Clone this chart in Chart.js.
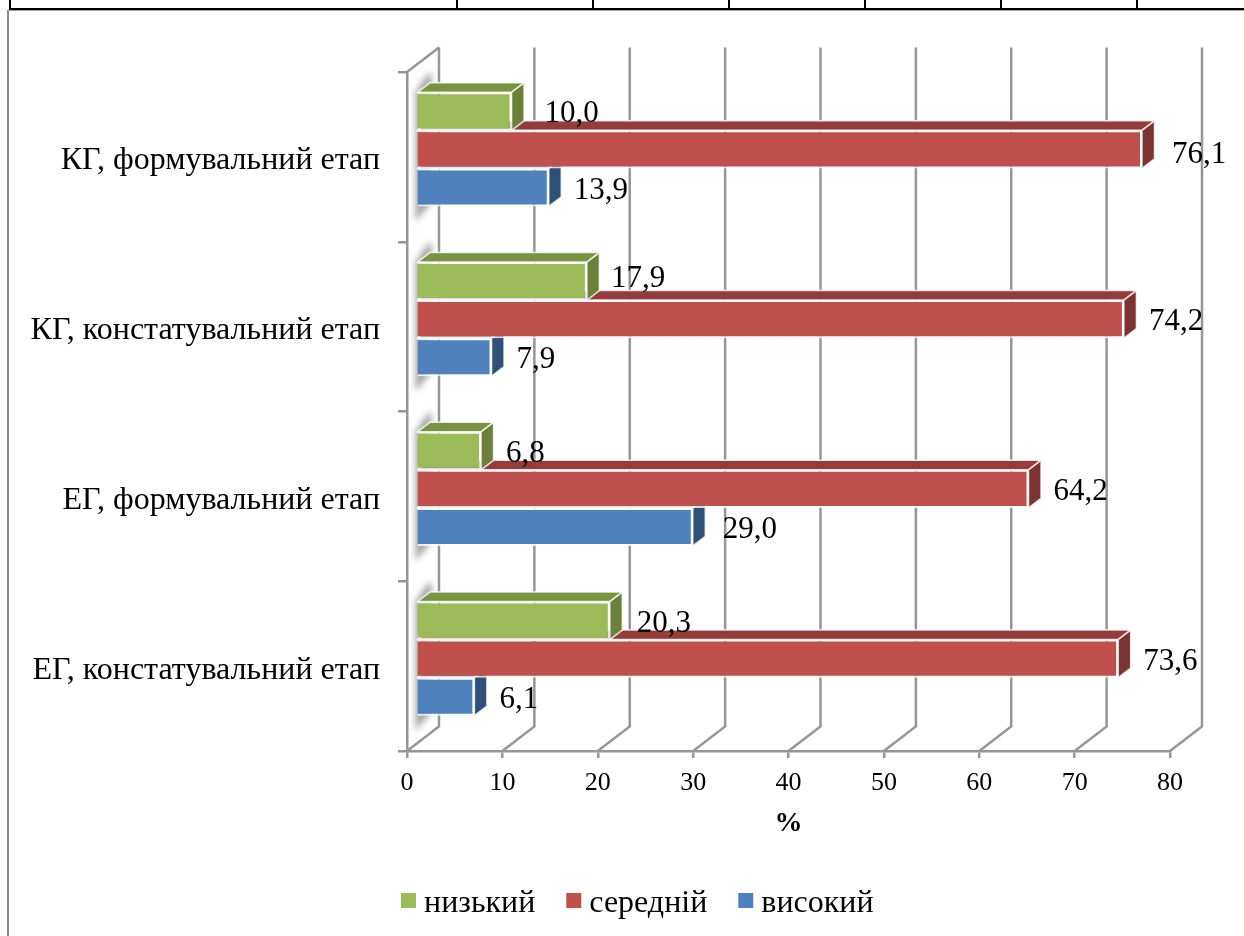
<!DOCTYPE html>
<html>
  <head>
    <title>Рівні за етапами</title>
    <script src="https://cdn.jsdelivr.net/npm/chart.js@4/dist/chart.umd.min.js"></script>
    <style>
      html,body{
        width: 100%;
        height: 100%;
        margin: 0;
        padding: 0;
        background: #fff;
        overflow: hidden;
      }
      #page{
        position: relative;
        width: 1244px;
        height: 936px;
      }
      #myChart{
        position: absolute;
        left: 0;
        top: 0;
      }
      /* table row left over above the chart, and the chart's own frame */
      .black-h{ position: absolute; left: 9px; top: 8px; width: 1235px; height: 2px; background: #000; }
      .black-v{ position: absolute; top: 0; width: 2px; height: 9px; background: #000; }
      .frame-h{ position: absolute; left: 8px; top: 10px; width: 1236px; height: 1px; background: #a6a6a6; }
      .frame-v{ position: absolute; left: 7px; top: 10px; width: 2px; height: 926px; background: #8a8a8a; }
    </style>
  </head>
  <body>
    <div id="page">
      <canvas id="myChart" width="1244" height="936"></canvas>
      <div class="frame-h"></div>
      <div class="frame-v"></div>
      <div class="black-h"></div>
      <div class="black-v" style="left:9px"></div>
      <div class="black-v" style="left:456px"></div>
      <div class="black-v" style="left:592px"></div>
      <div class="black-v" style="left:728px"></div>
      <div class="black-v" style="left:864px"></div>
      <div class="black-v" style="left:1000px"></div>
      <div class="black-v" style="left:1136px"></div>
    </div>

    <script>
      const categorias = ['КГ, формувальний етап', 'КГ, констатувальний етап', 'ЕГ, формувальний етап', 'ЕГ, констатувальний етап']
      const nizkyi = [10.0, 17.9, 6.8, 20.3]
      const serednii = [76.1, 74.2, 64.2, 73.6]
      const vysokyi = [13.9, 7.9, 29.0, 6.1]

      const corFrente = ['#9BBB59', '#C0504D', '#4F81BD']
      const corTopo = ['#7A9340', '#943C3A', '#3E6797']
      const corLado = ['#6B8038', '#7D3331', '#2F5079']

      const corEixo = '#969696'
      const fonte = '"Liberation Serif", "Times New Roman", serif'

      // 3D look: depth of the walls, where the bars sit inside it, depth of a bar
      const parede = {dx: 32, dy: 24.5}
      const recuo = {dx: 9.2, dy: -7.5}
      const prof = {dx: 12.5, dy: 9.5}

      // a few value labels sit off the regular spot: "serie-categoria": [dx, dy]
      const ajusteRotulo = {'0-0': [8, 0], '1-0': [5, 2], '2-2': [5, 0], '0-1': [-1, -5], '0-3': [2, 0]}

      function poligono(ctx, pontos, cor){
        ctx.beginPath()
        pontos.forEach((p, i) => i == 0 ? ctx.moveTo(p[0], p[1]) : ctx.lineTo(p[0], p[1]))
        ctx.closePath()
        ctx.fillStyle = cor
        ctx.fill()
        ctx.lineWidth = 1.5
        ctx.strokeStyle = 'rgba(255,255,255,0.8)'
        ctx.stroke()
      }

      function desenharLegenda(chart){
        const ctx = chart.ctx
        let x = 401
        ctx.save()
        ctx.font = '32px ' + fonte
        ctx.textBaseline = 'middle'
        ctx.textAlign = 'left'
        chart.data.datasets.forEach(ds => {
          ctx.fillStyle = ds.backgroundColor
          ctx.fillRect(x, 893, 15, 15)
          ctx.fillStyle = '#000'
          ctx.fillText(ds.label, x + 23, 904)
          x += 23 + ctx.measureText(ds.label).width + 31
        })
        ctx.restore()
      }

      const plugin3d = {
        id: 'plugin3d',
        afterLayout(chart){
          // category labels sit a little under the middle of their band
          chart.scales.y.getLabelItems().forEach(item => { item.textOffset += 4 })
        },
        beforeDatasetsDraw(chart){
          const ctx = chart.ctx
          const a = chart.chartArea
          const x = chart.scales.x

          // walls and floor lines
          ctx.save()
          ctx.strokeStyle = corEixo
          ctx.lineWidth = 2.5
          x.ticks.forEach(t => {
            const px = x.getPixelForValue(t.value)
            ctx.beginPath()
            ctx.moveTo(px, a.bottom)
            ctx.lineTo(px + parede.dx, a.bottom - parede.dy)
            ctx.lineTo(px + parede.dx, a.top - parede.dy)
            ctx.stroke()
          })
          ctx.beginPath()
          ctx.moveTo(a.left, a.top)
          ctx.lineTo(a.left + parede.dx, a.top - parede.dy)
          ctx.stroke()

          // soft shadow the bar groups leave on the left wall
          const cima = chart.getDatasetMeta(0).data
          const baixo = chart.getDatasetMeta(2).data
          ctx.filter = 'blur(3px)'
          ctx.fillStyle = 'rgba(105,105,105,0.6)'
          cima.forEach((el, i) => {
            const topo = el.y - el.height / 2 + recuo.dy
            const fim = baixo[i].y + baixo[i].height / 2 + recuo.dy
            const xb = el.base + recuo.dx
            ctx.beginPath()
            ctx.moveTo(xb - 2, topo)
            ctx.lineTo(xb + 11, topo - 19)
            ctx.lineTo(xb + 14, topo - 19)
            ctx.lineTo(xb + 14, fim - 4)
            ctx.lineTo(xb - 2, fim + 15)
            ctx.closePath()
            ctx.fill()
          })
          ctx.restore()

          ctx.save()
          ctx.translate(recuo.dx, recuo.dy)
        },
        beforeDatasetDraw(chart, args){
          const ctx = chart.ctx
          args.meta.data.forEach(el => {
            const t = el.y - el.height / 2
            const b = el.y + el.height / 2
            poligono(ctx, [[el.base, t], [el.base + prof.dx, t - prof.dy], [el.x + prof.dx, t - prof.dy], [el.x, t]], corTopo[args.index])
            poligono(ctx, [[el.x, t], [el.x + prof.dx, t - prof.dy], [el.x + prof.dx, b - prof.dy], [el.x, b]], corLado[args.index])
          })
        },
        afterDatasetsDraw(chart){
          const ctx = chart.ctx
          ctx.restore()

          // values next to the bars
          ctx.save()
          ctx.font = '31px ' + fonte
          ctx.fillStyle = '#000'
          ctx.textAlign = 'left'
          ctx.textBaseline = 'middle'
          chart.data.datasets.forEach((ds, i) => {
            chart.getDatasetMeta(i).data.forEach((el, j) => {
              const texto = ds.data[j].toFixed(1).replace('.', ',')
              const aj = ajusteRotulo[i + '-' + j] || [0, 0]
              ctx.fillText(texto, el.x + recuo.dx + 25 + aj[0], el.y + recuo.dy + 3 + aj[1])
            })
          })
          ctx.restore()

          desenharLegenda(chart)
        }
      }

      function conjunto(label, valores, i){
        return {
          label: label,
          data: valores,
          backgroundColor: corFrente[i],
          borderColor: 'rgba(255,255,255,0.8)',
          borderWidth: 2,
          categoryPercentage: 0.672,
          barPercentage: 1,
          clip: false
        }
      }

      new Chart(document.getElementById('myChart').getContext('2d'), {
        type: 'bar',
        plugins: [plugin3d],
        data: {
          labels: categorias,
          datasets: [
            conjunto('низький', nizkyi, 0),
            conjunto('середній', serednii, 1),
            conjunto('високий', vysokyi, 2)
          ]
        },
        options: {
          indexAxis: 'y',
          responsive: false,
          animation: false,
          layout: {padding: {left: 0, right: 74, top: 72, bottom: 0}},
          scales: {
            x: {
              min: 0,
              max: 80,
              afterFit(scale){ scale.height = 185 },
              ticks: {stepSize: 10, color: '#000', padding: 10, font: {family: fonte, size: 26}, maxRotation: 0},
              grid: {drawOnChartArea: false, drawTicks: true, tickLength: 7, color: corEixo, lineWidth: 2.5},
              border: {color: corEixo, width: 2.5},
              title: {display: true, text: '%', color: '#000', font: {family: fonte, size: 28, weight: 'bold'}, padding: {top: 0, bottom: 95}}
            },
            y: {
              afterFit(scale){ scale.width = 407 },
              ticks: {color: '#000', padding: 18, autoSkip: false, font: {family: fonte, size: 32}},
              grid: {drawOnChartArea: false, drawTicks: true, tickLength: 9, color: corEixo, lineWidth: 2.5},
              border: {color: corEixo, width: 2.5}
            }
          },
          plugins: {
            tooltip: {enabled: false},
            legend: {display: false}
          }
        }
      })
    </script>
  </body>
</html>
